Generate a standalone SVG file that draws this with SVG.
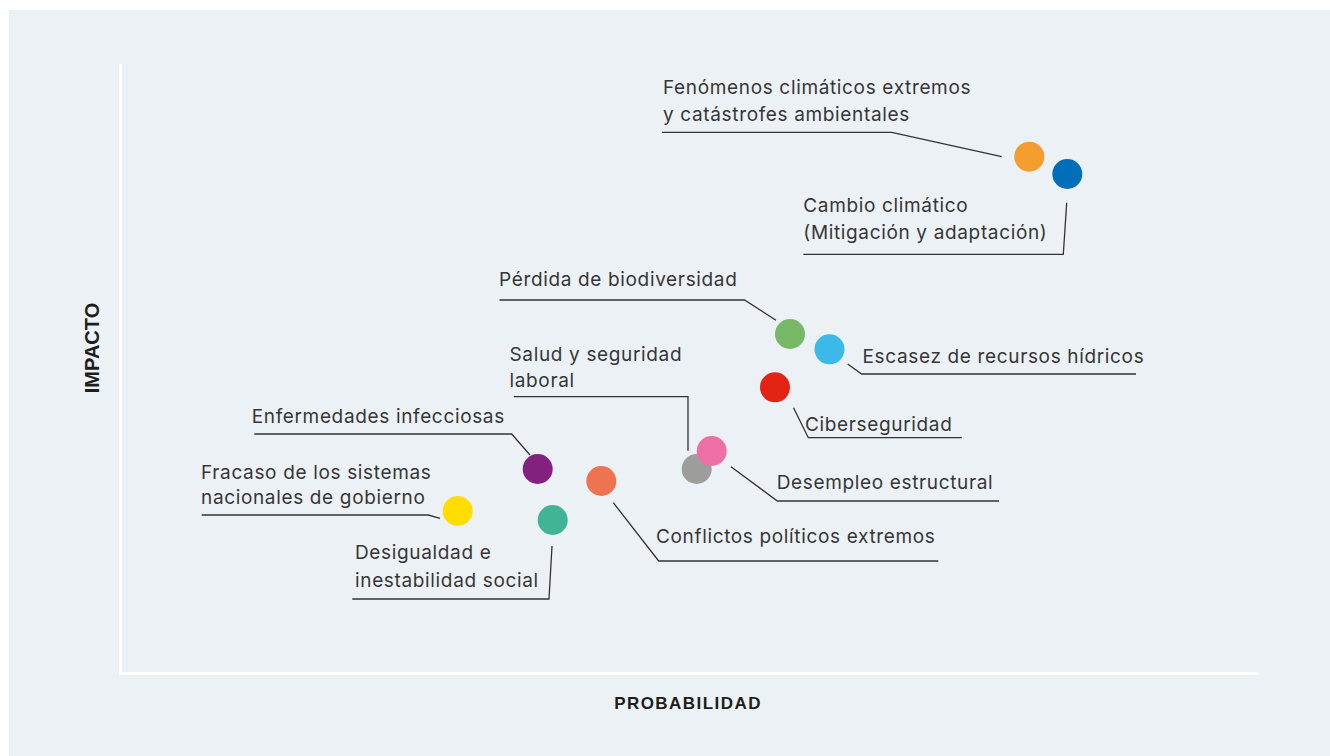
<svg xmlns="http://www.w3.org/2000/svg" width="1330" height="756" viewBox="0 0 1330 756">
<style>
.lbl{font-family:Inter,"Noto Sans","Liberation Sans",sans-serif;font-size:19px;letter-spacing:0.65px;fill:#363636}
.ax{font-family:"Liberation Sans",Arial,sans-serif;font-weight:bold;fill:#1d1d1b}
.ln{fill:none;stroke:#333333;stroke-width:1.3}
.axis{fill:none;stroke:#ffffff;stroke-width:3}
</style>
<rect x="0" y="0" width="1330" height="756" fill="#ffffff"/>
<rect x="9" y="10" width="1321" height="746" fill="#ecf1f6"/>
<g id="axes">
<path class="axis" d="M120.5 64 V673.5 H1258"/>
<text class="ax" x="688" y="709" font-size="17" letter-spacing="1.45" text-anchor="middle">PROBABILIDAD</text>
<text class="ax" font-size="20" text-anchor="middle" transform="translate(98.5 348) rotate(-90)">IMPACTO</text>
</g>
<g id="connectors">
<path class="ln" d="M662 132.3 H891.7 L1001.7 156.7"/>
<path class="ln" d="M1066.7 202.7 L1063.3 254.3 H803.3"/>
<path class="ln" d="M499.5 300 H744.5 L776 320.3"/>
<path class="ln" d="M847.7 364 L861.6 374 H1136"/>
<path class="ln" d="M793.5 407.7 L808.3 437.7 H961.8"/>
<path class="ln" d="M513.8 396.7 H688 V450.7"/>
<path class="ln" d="M731 466.7 L777.3 501 H999"/>
<path class="ln" d="M613.3 502.7 L658.7 561 H938.3"/>
<path class="ln" d="M254.3 434 H511.7 L530 455"/>
<path class="ln" d="M201.7 515 H428.3 L440 518.3"/>
<path class="ln" d="M552 546 L549 599 H352.3"/>
</g>
<g id="n-fenomenos"><circle cx="1029.3" cy="156.7" r="15" fill="#f59c2e"/><text class="lbl" x="663" y="94">Fenómenos climáticos extremos</text><text class="lbl" x="663" y="121">y catástrofes ambientales</text></g>
<g id="n-cambio"><circle cx="1067.3" cy="174" r="15" fill="#006eb8"/><text class="lbl" x="803.3" y="211.7">Cambio climático</text><text class="lbl" x="803.3" y="238.5">(Mitigación y adaptación)</text></g>
<g id="n-biodiversidad"><circle cx="790" cy="334" r="15" fill="#76b865"/><text class="lbl" x="499" y="286">Pérdida de biodiversidad</text></g>
<g id="n-escasez"><circle cx="829.5" cy="349.3" r="15" fill="#3bb9e9"/><text class="lbl" x="862.5" y="362.7">Escasez de recursos hídricos</text></g>
<g id="n-ciber"><circle cx="775" cy="387.3" r="15" fill="#e32313"/><text class="lbl" x="805" y="430.7">Ciberseguridad</text></g>
<g id="n-salud"><circle cx="696.7" cy="469" r="15" fill="#9d9d9c"/><text class="lbl" x="509.5" y="360.7">Salud y seguridad</text><text class="lbl" x="509.5" y="386.7">laboral</text></g>
<g id="n-desempleo"><circle cx="711.7" cy="451" r="15" fill="#ee6fa3"/><text class="lbl" x="776.7" y="489">Desempleo estructural</text></g>
<g id="n-conflictos"><circle cx="601.3" cy="481" r="15" fill="#ee7350"/><text class="lbl" x="656" y="542.7">Conflictos políticos extremos</text></g>
<g id="n-enfermedades"><circle cx="537.7" cy="469" r="15" fill="#84207e"/><text class="lbl" x="251.7" y="422.7">Enfermedades infecciosas</text></g>
<g id="n-fracaso"><circle cx="457.7" cy="511" r="15" fill="#ffdd00"/><text class="lbl" x="201" y="479">Fracaso de los sistemas</text><text class="lbl" x="201" y="504.3">nacionales de gobierno</text></g>
<g id="n-desigualdad"><circle cx="552.7" cy="520" r="15" fill="#41b496"/><text class="lbl" x="355" y="559.3">Desigualdad e</text><text class="lbl" x="355" y="586.7">inestabilidad social</text></g>
</svg>
